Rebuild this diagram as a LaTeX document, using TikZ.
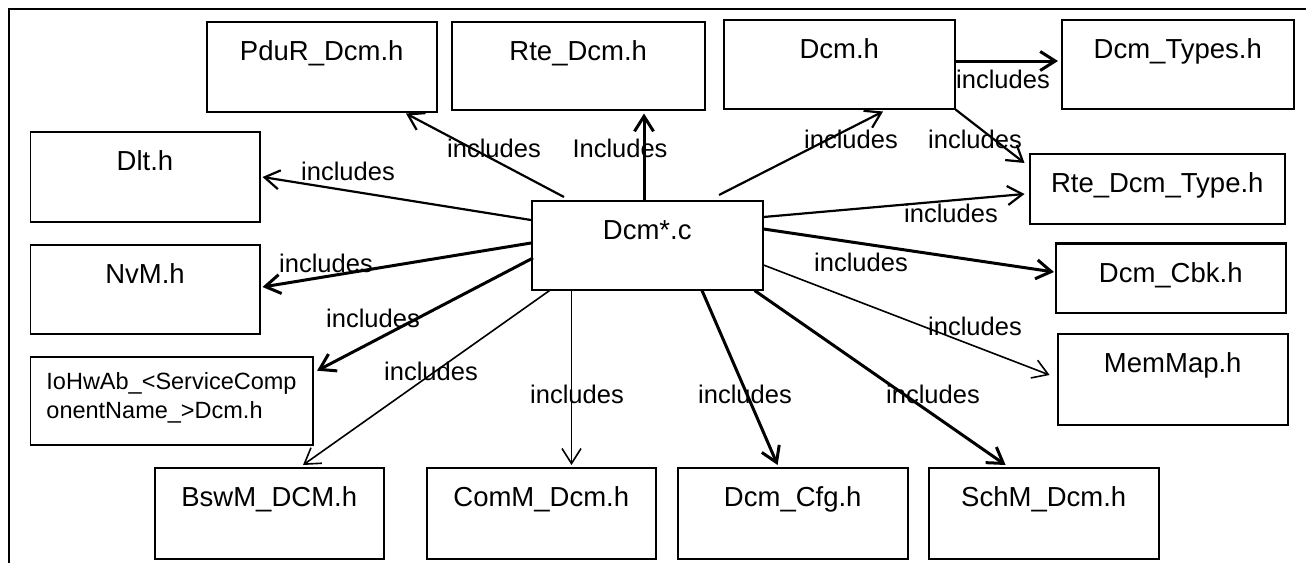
\documentclass[tikz,border=0pt]{standalone}
\usepackage{fontspec}
\setmainfont{Liberation Sans}
\usetikzlibrary{arrows.meta,calc}
\tikzset{
  box/.style={draw, line width=1.5pt, anchor=north west, inner sep=0pt,
    font=\fontsize{27.5}{33}\selectfont, text height=39pt},
  lbl/.style={anchor=base, inner sep=0pt, font=\fontsize{25.5}{30}\selectfont},
  arr/.style={-{Straight Barb[length=15pt,width=19pt]}, line width=2.2pt},
  arrthick/.style={arr, line width=3pt},
  arrthin/.style={arr, line width=1.6pt},
  frame/.style={line width=2.6pt}
}
\begin{document}
\begin{tikzpicture}[x=1pt,y=-1pt]
\useasboundingbox (0,0) rectangle (1306,563);
% frame
\coordinate (fbl) at (9,563);
\coordinate (ftl) at (9,9);
\coordinate (ftr) at (1306,9);
\draw[frame] (fbl) -- (ftl) -- (ftr);
% boxes
\node[box, minimum width=230pt, minimum height=90pt, text depth=51pt] (pdur) at (206,21) {PduR\_Dcm.h};
\node[box, minimum width=253pt, minimum height=88pt, text depth=49pt] (rte) at (451,21) {Rte\_Dcm.h};
\node[box, minimum width=231pt, minimum height=89pt, text depth=50pt] (dcmh) at (723,19) {Dcm.h};
\node[box, minimum width=232pt, minimum height=89pt, text depth=50pt] (types) at (1061,19) {Dcm\_Types.h};
\node[box, minimum width=229.5pt, minimum height=90pt, text depth=51pt] (dlt) at (29.5,131) {Dlt.h};
\node[box, minimum width=255pt, minimum height=70pt, text depth=31pt] (rtetype) at (1029,153) {Rte\_Dcm\_Type.h};
\node[box, minimum width=231pt, minimum height=89pt, text depth=50pt] (dcmc) at (531,200) {Dcm*.c};
\node[box, minimum width=229.5pt, minimum height=89pt, text depth=50pt] (nvm) at (29.5,244) {NvM.h};
\node[box, minimum width=230pt, minimum height=69pt, text depth=30pt] (cbk) at (1055,243) {Dcm\_Cbk.h};
\draw[line width=2.6pt] (cbk.north west) -- (cbk.north east);
\node[box, minimum width=230pt, minimum height=91pt, text depth=52pt] (memmap) at (1057,333) {MemMap.h};
\node[box, minimum width=282.5pt, minimum height=88pt, align=left,
  font=\fontsize{23.5}{29.5}\selectfont, text height=62pt, text depth=26pt] (ioh) at (29.5,356)
  {IoHwAb\_<ServiceComp\\onentName\_>Dcm.h};
\node[box, minimum width=229pt, minimum height=91pt, text depth=52pt] (bswm) at (154,467) {BswM\_DCM.h};
\node[box, minimum width=229pt, minimum height=91pt, text depth=52pt] (comm) at (426,467) {ComM\_Dcm.h};
\node[box, minimum width=230pt, minimum height=91pt, text depth=52pt] (cfg) at (677,467) {Dcm\_Cfg.h};
\node[box, minimum width=230pt, minimum height=91pt, text depth=52pt] (schm) at (928,467) {SchM\_Dcm.h};
% connectors
\draw[arr] ($(dcmc.north west)+(0,20)$) -- ($(dlt.north east)+(2,46)$);
\draw[arr] ($(dcmc.north west)+(33,-3)$) -- ($(pdur.south west)+(200,1)$);
\draw[arrthick] ($(dcmc.north west)+(113,0)$) -- ($(rte.south west)+(193,3)$);
\draw[arr] ($(dcmc.north west)+(188,-5)$) -- ($(dcmh.south west)+(160,2)$);
\draw[arr] (dcmh.south east) -- ($(rtetype.north west)+(-4.5,10)$);
\draw[arrthick] ($(dcmh.north east)+(0,42)$) -- ($(types.north west)+(-3,42)$);
\draw[arr] ($(dcmc.north east)+(0,17)$) -- ($(rtetype.north west)+(-4.5,41)$);
\draw[arrthick] ($(dcmc.north east)+(0,29)$) -- ($(cbk.north west)+(-1,29)$);
\draw[arrthin] ($(dcmc.north east)+(0,65)$) -- ($(memmap.north west)+(-7.4,42)$);
\draw[arrthick] ($(dcmc.north west)+(0,43)$) -- ($(nvm.north east)+(2,43)$);
\draw[arrthick] ($(dcmc.north west)+(2,58)$) -- ($(ioh.north east)+(3.6,14.7)$);
\draw[arrthin] ($(dcmc.south west)+(20,-1)$) -- ($(bswm.north west)+(149,-2)$);
\draw[arrthin] ($(dcmc.south west)+(40.5,0)$) -- ($(comm.north west)+(145.5,-2)$);
\draw[arrthick] ($(dcmc.south west)+(171,0)$) -- ($(cfg.north west)+(100.6,-2)$);
\draw[arrthick] ($(dcmc.south west)+(223.6,0)$) -- ($(schm.north west)+(77.6,-2)$);
% labels
\node[lbl] (l1) at (348,180) {includes};
\node[lbl] (l2) at (494,157) {includes};
\node[lbl] (l3) at (620,157) {Includes};
\node[lbl] (l4) at (851,148) {includes};
\node[lbl] (l5) at (975,148) {includes};
\node[lbl] (l6) at (1003,88) {includes};
\node[lbl] (l7) at (951,222) {includes};
\node[lbl] (l8) at (861,271) {includes};
\node[lbl] (l9) at (326,272) {includes};
\node[lbl] (l10) at (373,327) {includes};
\node[lbl] (l11) at (431,380) {includes};
\node[lbl] (l12) at (577,403) {includes};
\node[lbl] (l13) at (745,403) {includes};
\node[lbl] (l14) at (933,403) {includes};
\node[lbl] (l15) at (975,335) {includes};
\end{tikzpicture}
\end{document}
